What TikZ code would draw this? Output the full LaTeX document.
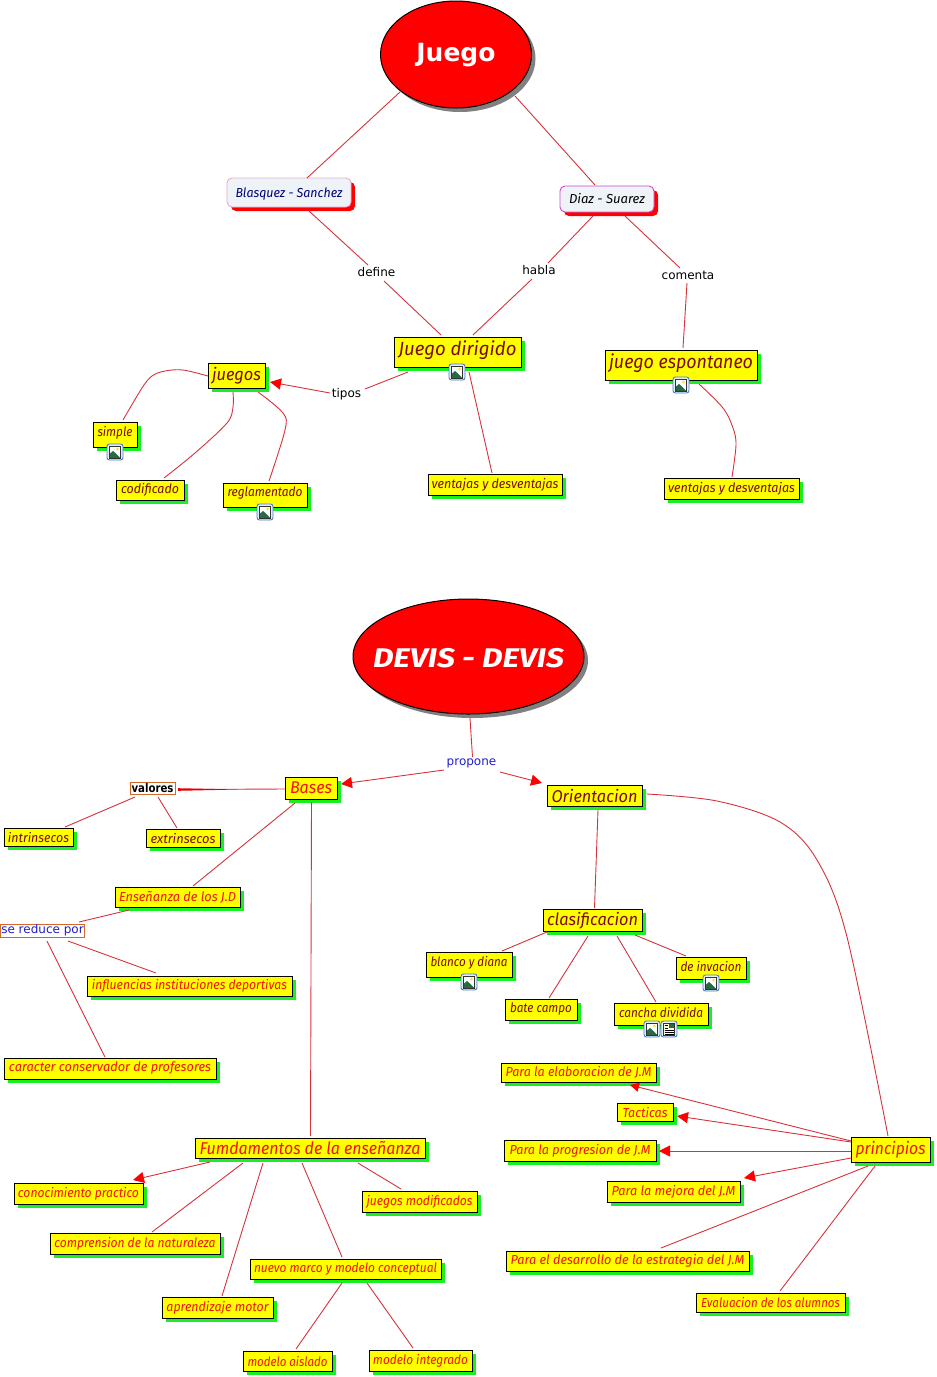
\documentclass[tikz,border=0pt]{standalone}
\usepackage{fontspec}
\setmainfont{DejaVu Sans}
\newfontfamily\cfont{Fira Sans}
\usetikzlibrary{shadows,calc,arrows.meta,shapes.geometric}
\definecolor{shgreen}{RGB}{25,240,35}
\definecolor{boxy}{RGB}{255,255,0}
\definecolor{txtdark}{RGB}{125,10,0}
\definecolor{txtred}{RGB}{240,20,0}
\definecolor{linec}{RGB}{215,50,60}
\definecolor{lblblue}{RGB}{30,30,205}
\definecolor{brd}{RGB}{210,105,40}
\definecolor{persfill}{RGB}{238,243,248}
\definecolor{iconb}{RGB}{75,125,195}
\definecolor{iconf}{RGB}{228,238,250}
\definecolor{hill}{RGB}{40,105,70}
\definecolor{sun}{RGB}{250,225,90}
\newcommand\ctext[2]{\resizebox{#1pt}{\height}{#2}}
\newcommand\vmove[2]{\raisebox{#1}[\height][\depth]{#2}}
\newcommand\utext[2]{\vmove{2pt}{\resizebox{#1pt}{\height}{#2}}}
\newcommand\fs[1]{\fontsize{#1pt}{#1pt}\selectfont}
\tikzset{
  conn/.style={draw=linec,line width=0.9pt},
  arr/.style={conn,-{Triangle[length=11pt,width=11pt,color=red]}},
  box/.style={rectangle,draw=black,fill=boxy,line width=1pt,inner sep=0pt,
    drop shadow={shadow xshift=4pt,shadow yshift=-4pt,fill=shgreen,opacity=1},font=\cfont\itshape},
  sm/.style={font=\cfont\itshape\fs{13}},
  md/.style={font=\cfont\itshape\fs{17}},
  lg/.style={font=\cfont\itshape\fs{19}},
  dk/.style={text=txtdark},
  rd/.style={text=txtred},
  person/.style={rectangle,rounded corners=5pt,fill=persfill,line width=0.9pt,inner sep=0pt,
    drop shadow={shadow xshift=4pt,shadow yshift=-4pt,fill=red,opacity=1},font=\cfont\itshape\fs{13}},
  oval/.style={ellipse,draw=black,fill=red,line width=1pt,inner sep=0pt,text=white,
    drop shadow={shadow xshift=4pt,shadow yshift=-4pt,fill=black!50,opacity=1}},
  lbl/.style={inner sep=0pt,font=\fs{12}},
  phrase/.style={rectangle,draw=brd,fill=white,line width=1pt,inner sep=0pt,font=\fs{12}},
  imgicon/.pic={
    \draw[draw=iconb,fill=iconf,line width=0.9pt,rounded corners=2.5pt] (-8,-8) rectangle (8,8);
    \fill[white] (-5.5,-6) rectangle (5.5,6);
    \fill[hill] (-5.5,6) -- (-5.5,2) -- (-2,-1) -- (1,1.5) -- (5.5,6) -- cycle;
    \fill[sun] (2.5,-3) circle (1.6);
    \draw[black!80,line width=0.8pt] (-5.5,-6) rectangle (5.5,6);
  },
  docicon/.pic={
    \draw[draw=iconb,fill=iconf,line width=0.9pt,rounded corners=2.5pt] (-8,-8) rectangle (8,8);
    \fill[yellow!15!white] (-5.5,-6) rectangle (5.5,6);
    \fill[hill] (0,-5) rectangle (5,-1);
    \draw[black,line width=0.5pt] (-4.5,-3.5) -- (-1,-3.5) (-4.5,-1) -- (-1,-1) (-4.5,1) -- (4.5,1) (-4.5,3) -- (4.5,3) (-4.5,4.8) -- (4.5,4.8);
    \draw[black!80,line width=0.8pt] (-5.5,-6) rectangle (5.5,6);
  }
}
\begin{document}
\begin{tikzpicture}[x=1pt,y=-1pt]
\useasboundingbox (0,0) rectangle (937,1377);
% top map
\node[oval,minimum width=151pt,minimum height=107pt,font=\bfseries\fs{25}] (jg) at (456,54.5) {\makebox[0pt]{\vmove{-1pt}{Juego}}};
\node[person,draw={rgb,255:red,235;green,170;blue,200},minimum width=124pt,minimum height=29pt,text={rgb,255:red,0;green,0;blue,120}] (blas) at (289,192.5) {\vmove{-2pt}{\resizebox{107pt}{\height}{Blasquez - Sanchez}}};
\node[person,draw={rgb,255:red,210;green,70;blue,210},minimum width=94pt,minimum height=26pt,text=black] (diaz) at (607,199) {\ctext{76}{Diaz - Suarez}};
\node[lbl] (define) at (376.5,272) {define};
\node[lbl] (habla) at (539,270) {habla};
\node[lbl] (comenta) at (688,275) {comenta};
\node[lbl] (tipos) at (346.5,394) {tipos};
\node[box,lg,dk,minimum width=127pt,minimum height=30pt] (jd) at (457.5,352) {\utext{118}{Juego dirigido}};
\node[box,lg,dk,minimum width=152pt,minimum height=30pt] (je) at (681,365) {\utext{144}{juego espontaneo}};
\node[box,md,dk,minimum width=57pt,minimum height=25pt] (juegos) at (236.5,375.5) {\ctext{49}{juegos}};
\node[box,sm,dk,minimum width=44pt,minimum height=25pt] (simple) at (115,434.5) {\utext{35}{simple}};
\node[box,sm,dk,minimum width=68pt,minimum height=20pt] (cod) at (150,490) {\ctext{58}{codificado}};
\node[box,sm,dk,minimum width=84pt,minimum height=24pt] (regl) at (265,495) {\utext{75}{reglamentado}};
\node[box,sm,dk,minimum width=134pt,minimum height=21pt] (va) at (495,484.5) {\ctext{127}{ventajas y desventajas}};
\node[box,sm,dk,minimum width=135pt,minimum height=21pt] (vb) at (731.5,488.5) {\ctext{127}{ventajas y desventajas}};
\pic at (115,452) {imgicon};
\pic at (265,512) {imgicon};
\pic at (457,372) {imgicon};
\pic at (681,385) {imgicon};
\draw[conn] ($(jg)+(-56,37.5)$) -- ($(blas)+(18,-14.5)$);
\draw[conn] ($(jg)+(59,41.5)$) -- ($(diaz)+(-12,-14)$);
\draw[conn] ($(blas)+(20,18.5)$) -- ($(define)+(-8.5,-7)$);
\draw[conn] ($(define)+(7.5,9)$) -- ($(jd)+(-16.5,-17)$);
\draw[conn] ($(diaz)+(-14,17)$) -- ($(habla)+(9,-7)$);
\draw[conn] ($(habla)+(-7,9)$) -- ($(jd)+(15.5,-17)$);
\draw[conn] ($(diaz)+(18,17)$) -- ($(comenta)+(-8,-7)$);
\draw[conn] ($(comenta)+(-1,8)$) -- ($(je)+(2,-17)$);
\draw[conn] ($(jd)+(-49.5,20)$) -- ($(tipos)+(18.5,-5)$);
\draw[arr] ($(tipos)+(-16.5,-1)$) -- ($(juegos)+(33.5,6.5)$);
\draw[conn] plot[smooth,tension=0.55] coordinates {($(juegos)+(-28.5,0.5)$) (183,370) (165,371) (152,376) (142,388) ($(simple)+(8,-14.5)$)};
\draw[conn] plot[smooth,tension=0.55] coordinates {($(juegos)+(-3.5,16.5)$) (233,407) (227,423) (195,453) ($(cod)+(14,-12)$)};
\draw[conn] plot[smooth,tension=0.55] coordinates {($(juegos)+(21.5,16.5)$) (283,413) (285,430) ($(regl)+(4,-14)$)};
\draw[conn] ($(jd)+(11.5,20)$) -- ($(va)+(-3,-11.5)$);
\draw[conn] plot[smooth,tension=0.55] coordinates {($(je)+(18,19)$) (723,408) (733,428) (736,445) ($(vb)+(0.5,-11.5)$)};
% lower map
\node[oval,minimum width=231pt,minimum height=115pt,font=\cfont\itshape\bfseries\fs{27}] (devis) at (468.5,656.5) {\makebox[0pt]{\vmove{-2pt}{\resizebox{191pt}{\height}{DEVIS - DEVIS}}}};
\node[lbl,text=lblblue] (prop) at (471.5,763) {propone};
\node[box,md,rd,minimum width=52pt,minimum height=22pt] (bases) at (311,788) {\ctext{42}{Bases}};
\node[box,md,dk,minimum width=95pt,minimum height=21pt] (orient) at (594.5,795.5) {\ctext{86}{Orientacion}};
\node[phrase,text=black,minimum width=45pt,minimum height=11.5pt] (valores) at (152.5,788.5) {\ctext{42}{\bfseries valores}};
\node[box,sm,dk,minimum width=69pt,minimum height=18pt] (intr) at (38.5,837) {\ctext{61}{intrinsecos}};
\node[box,sm,dk,minimum width=74pt,minimum height=18pt] (extr) at (183,838) {\ctext{65}{extrinsecos}};
\node[box,sm,rd,minimum width=125pt,minimum height=20pt] (ens) at (177.5,897) {\ctext{117}{Enseñanza de los J.D}};
\node[phrase,text=lblblue,minimum width=84pt,minimum height=13pt] (sered) at (42.5,930.5) {se reduce por};
\node[box,sm,rd,minimum width=205pt,minimum height=20pt] (infl) at (189.5,986) {\ctext{195}{influencias instituciones deportivas}};
\node[box,sm,rd,minimum width=212pt,minimum height=21pt] (car) at (110,1068.5) {\ctext{202}{caracter conservador de profesores}};
\node[box,md,rd,minimum width=230pt,minimum height=20pt] (fund) at (310,1148) {\ctext{221}{Fumdamentos de la enseñanza}};
\node[box,sm,rd,minimum width=129pt,minimum height=21pt] (cono) at (78.5,1193.5) {\ctext{121}{conocimiento practico}};
\node[box,sm,rd,minimum width=170pt,minimum height=21pt] (compr) at (135,1243.5) {\ctext{161}{comprension de la naturaleza}};
\node[box,sm,rd,minimum width=191pt,minimum height=20pt] (nuevo) at (345.5,1269) {\ctext{183}{nuevo marco y modelo conceptual}};
\node[box,sm,rd,minimum width=111pt,minimum height=21pt] (apr) at (217.5,1307.5) {\ctext{102}{aprendizaje motor}};
\node[box,sm,rd,minimum width=115pt,minimum height=21pt] (jmod) at (419.5,1201.5) {\ctext{106}{juegos modificados}};
\node[box,sm,rd,minimum width=89pt,minimum height=20pt] (aisl) at (287.5,1361) {\ctext{80}{modelo aislado}};
\node[box,sm,rd,minimum width=103pt,minimum height=21pt] (integ) at (420.5,1360.5) {\ctext{95}{modelo integrado}};
\node[box,md,dk,minimum width=99pt,minimum height=22pt] (clas) at (592.5,920) {\vmove{-1pt}{\resizebox{91pt}{\height}{clasificacion}}};
\node[box,sm,dk,minimum width=86pt,minimum height=25pt] (blanco) at (469,964.5) {\utext{77}{blanco y diana}};
\node[box,sm,dk,minimum width=72pt,minimum height=21pt] (bate) at (541,1009.5) {\ctext{62}{bate campo}};
\node[box,sm,dk,minimum width=94pt,minimum height=22pt] (cancha) at (661,1014) {\utext{84}{cancha dividida}};
\node[box,sm,dk,minimum width=70pt,minimum height=22pt] (inv) at (711,968) {\utext{61}{de invacion}};
\node[box,sm,rd,minimum width=155pt,minimum height=19pt] (elab) at (578.5,1072.5) {\ctext{146}{Para la elaboracion de J.M}};
\node[box,sm,rd,minimum width=56pt,minimum height=18pt] (tact) at (645,1112) {\ctext{45}{Tacticas}};
\node[box,sm,rd,minimum width=152pt,minimum height=21pt] (prog) at (580,1150.5) {\ctext{141}{Para la progresion de J.M}};
\node[box,md,rd,minimum width=79pt,minimum height=25pt] (prin) at (890.5,1149.5) {\ctext{70}{principios}};
\node[box,sm,rd,minimum width=133pt,minimum height=21pt] (mej) at (673.5,1191.5) {\ctext{124}{Para la mejora del J.M}};
\node[box,sm,rd,minimum width=243pt,minimum height=20pt] (desa) at (627.5,1261) {\ctext{234}{Para el desarrollo de la estrategia del J.M}};
\node[box,sm,rd,minimum width=149pt,minimum height=19pt] (eval) at (770.5,1302.5) {\ctext{139}{Evaluacion de los alumnos}};
\pic at (469,982) {imgicon};
\pic at (711,983) {imgicon};
\pic at (652,1029) {imgicon};
\pic at (669,1029) {docicon};
\draw[conn] ($(devis)+(1.5,61.5)$) -- ($(prop)+(1,-6)$);
\draw[arr] ($(prop)+(-27.5,7)$) -- ($(bases)+(30,-4)$);
\draw[arr] ($(prop)+(28.5,9)$) -- ($(orient)+(-52.5,-12.5)$);
\draw[conn] ($(bases)+(-26,1)$) -- ($(valores)+(25.5,1)$);
\fill[red!90!black] ($(valores)+(25.5,-0.3)$) -- ($(valores)+(25.5,2.3)$) -- ($(valores)+(85,1)$) -- cycle;
\draw[conn] ($(valores)+(-17.5,8.5)$) -- ($(intr)+(26.5,-10)$);
\draw[conn] ($(valores)+(5.5,8.5)$) -- ($(extr)+(-6,-10)$);
\draw[conn] ($(bases)+(-16,15)$) -- ($(ens)+(15.5,-11)$);
\draw[conn] ($(bases)+(0.5,14)$) -- ($(fund)+(0.5,-12)$);
\draw[conn] ($(ens)+(-48.5,13)$) -- ($(sered)+(36.5,-8.5)$);
\draw[conn] ($(sered)+(25.5,10.5)$) -- ($(infl)+(-33.5,-13)$);
\draw[conn] ($(sered)+(4.5,10.5)$) -- ($(car)+(-5,-11.5)$);
\draw[conn] ($(orient)+(3.5,14.5)$) -- ($(clas)+(2,-12)$);
\draw[conn] plot[smooth,tension=0.55] coordinates {($(orient)+(52.5,-1.5)$) (717,801) (780,822) (817,860) (847,937) ($(prin)+(-2.5,-13.5)$)};
\draw[conn] ($(clas)+(-45.5,12)$) -- ($(blanco)+(33,-13.5)$);
\draw[conn] ($(clas)+(-4.5,16)$) -- ($(bate)+(8,-11.5)$);
\draw[conn] ($(clas)+(24.5,16)$) -- ($(cancha)+(-5,-12)$);
\draw[conn] ($(clas)+(42.5,15)$) -- ($(inv)+(-25,-12)$);
\draw[conn,-{Triangle[length=9pt,width=9pt,color=red]}] ($(prin)+(-39.5,-8.5)$) -- ($(elab)+(51.5,12.5)$);
\draw[arr] ($(prin)+(-39.5,-7.5)$) -- ($(tact)+(32,4)$);
\draw[arr] ($(prin)+(-39.5,1.5)$) -- ($(prog)+(79,0.5)$);
\draw[arr] ($(prin)+(-39.5,8.5)$) -- ($(mej)+(70.5,-13.5)$);
\draw[conn] ($(prin)+(-22.5,16.5)$) -- ($(desa)+(33.5,-13)$);
\draw[conn] ($(prin)+(-15.5,16.5)$) -- ($(eval)+(9.5,-11.5)$);
\draw[arr] ($(fund)+(-100,14)$) -- ($(cono)+(54.5,-13.5)$);
\draw[conn] ($(fund)+(-67,15)$) -- ($(compr)+(17,-11.5)$);
\draw[conn] ($(fund)+(-47,15)$) -- ($(apr)+(4.5,-11.5)$);
\draw[conn] ($(fund)+(-8,15)$) -- ($(nuevo)+(-3.5,-12)$);
\draw[conn] ($(fund)+(48,15)$) -- ($(jmod)+(-18.5,-12.5)$);
\draw[conn] ($(nuevo)+(-3.5,14)$) -- ($(aisl)+(8.5,-12)$);
\draw[conn] ($(nuevo)+(21.5,14)$) -- ($(integ)+(-7.5,-12.5)$);
\end{tikzpicture}
\end{document}
